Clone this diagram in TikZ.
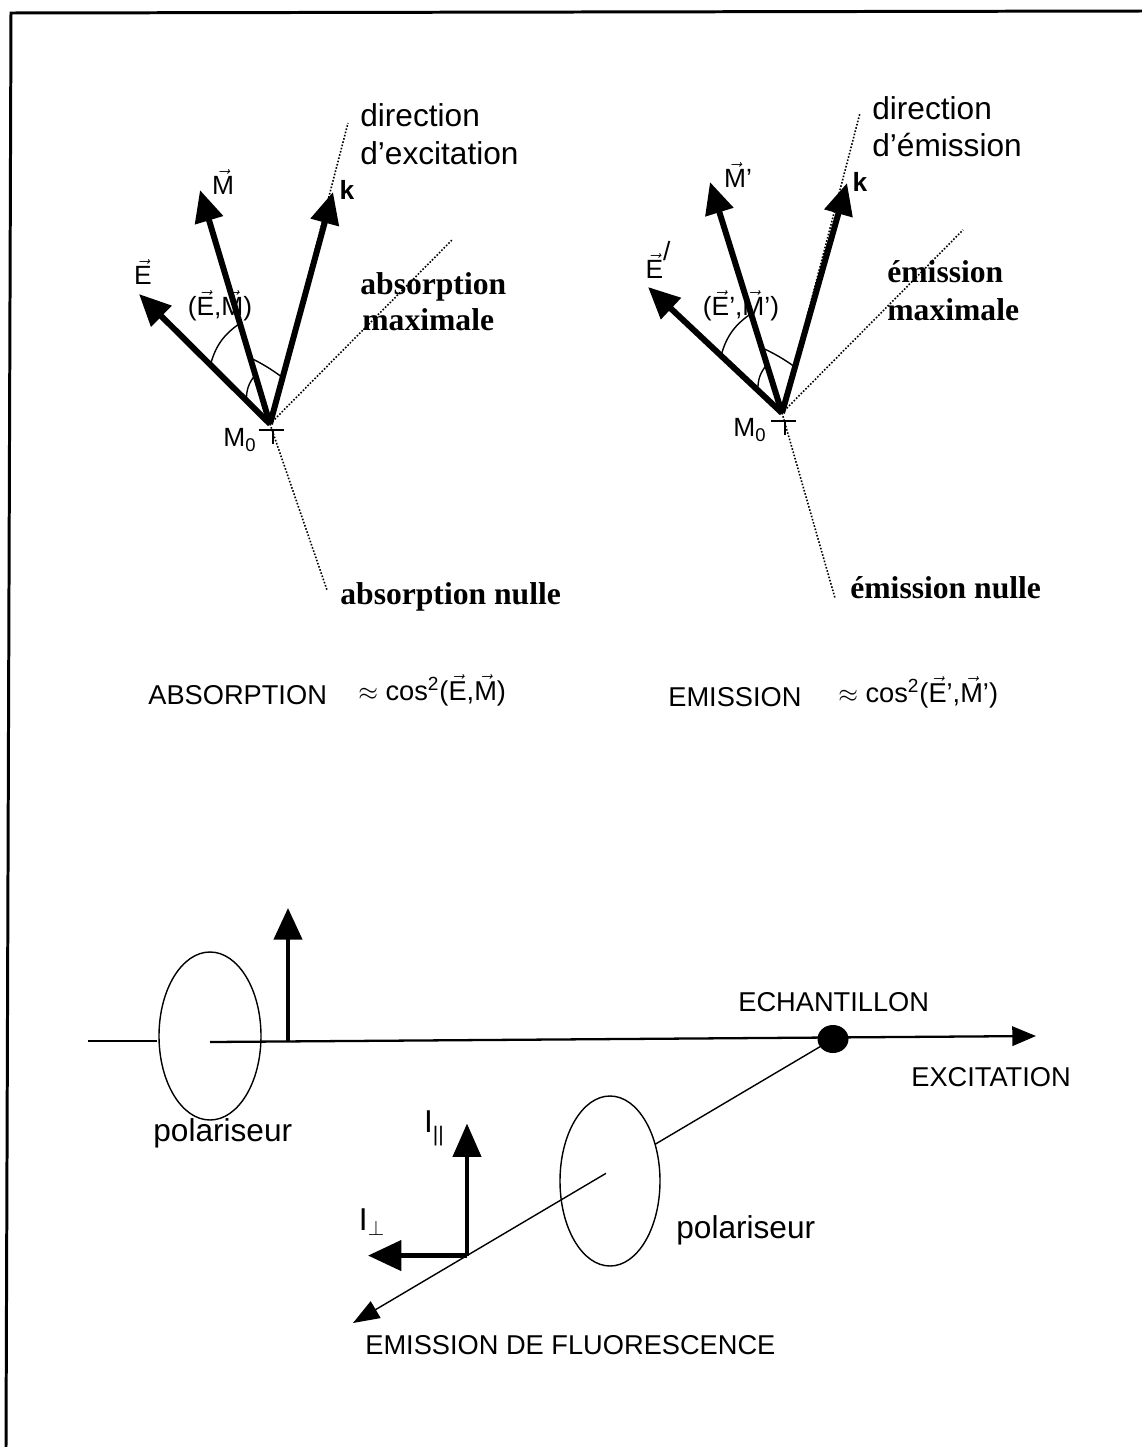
\documentclass[tikz,border=0pt]{standalone}
\usepackage{amsmath,amssymb}
\usepackage{fontspec}
\setmainfont{Liberation Serif}
\setsansfont{Liberation Sans}
\usepackage{tikz}
\usetikzlibrary{calc,arrows.meta}
\newcommand{\vecl}[1]{\ensuremath{\vec{\text{#1}}}}
\newcommand{\subtxt}[1]{\raisebox{-0.55ex}{\fontsize{12}{12}\selectfont #1}}

\begin{document}
\begin{tikzpicture}[x=0.02cm,y=-0.02cm,
  lbl/.style={font=\sffamily\fontsize{18}{20}\selectfont,inner sep=0pt},
  serif/.style={font=\bfseries\fontsize{18}{20}\selectfont,inner sep=0pt},
  caps/.style={font=\sffamily\fontsize{15.5}{17}\selectfont,inner sep=0pt},
  vlbl/.style={font=\sffamily\fontsize{15}{17}\selectfont,inner sep=0pt},
  vec/.style={line width=3.4pt,-{Triangle[length=18pt,width=16pt]}},
  ray/.style={densely dotted,line width=0.9pt},
  fine/.style={line width=0.8pt}]
  \useasboundingbox (0,0) rectangle (1142,1447);
  \draw[line width=1.7pt] (6,1447) -- (11,13) -- (1142,11);

  \coordinate (O1) at (270,424);
  \coordinate (E1) at ($(O1)+(-131,-130)$);
  \coordinate (M1) at ($(O1)+(-70,-234)$);
  \coordinate (K1) at ($(O1)+(63,-232)$);
  \draw[ray] (O1) -- +(78,-301);
  \draw[ray] (O1) -- +(182,-184);
  \draw[ray] (O1) -- +(57,166);
  \draw[vec] (O1) -- (E1);
  \draw[vec] (O1) -- (M1);
  \draw[vec] (O1) -- (K1);
  \draw[fine] ($(O1)!0.455!(E1)$) to[bend left=20] ($(O1)!0.43!(M1)$);
  \draw[fine] ($(O1)!0.18!(E1)$) to[bend left=20] ($(O1)!0.21!(M1)$);
  \draw[fine] ($(O1)!0.283!(M1)$) to[bend left=5] ($(O1)!0.2!(K1)$);
  \draw[line width=1.2pt] ($(O1)+(-11,6)$) -- +(25,0);
  \draw[line width=1.2pt] ($(O1)+(3,6)$) -- +(0,14);
  \node[vlbl] (lE1) at (143,272) {\vecl{E}};
  \node[vlbl] (lM1) at (223,182) {\vecl{M}};
  \node[vlbl,font=\sffamily\bfseries\fontsize{15}{17}\selectfont] (lK1) at (347,190) {k};
  \node[vlbl] (lEM1) at (220,306) {(\vecl{E},\vecl{M})};
  \node[vlbl] (lO1) at (240,440) {M$_{\text{0}}$};
  \node[lbl,anchor=west] (dir1) at (360,115) {direction};
  \node[lbl,anchor=west] (dex1) at (360,153) {d'excitation};
  \node[serif,anchor=west] (abs1) at (360,287) {absorption};
  \node[serif,anchor=west] (max1) at (362,320) {maximale};
  \node[serif,anchor=west] (nul1) at (340,597) {absorption nulle};

  \coordinate (O2) at (782,413);
  \coordinate (E2) at ($(O2)+(-134,-126)$);
  \coordinate (M2) at ($(O2)+(-72,-231)$);
  \coordinate (K2) at ($(O2)+(65,-230)$);
  \draw[ray] (O2) -- +(78,-300);
  \draw[ray] (O2) -- +(181,-183);
  \draw[ray] (O2) -- +(53,185);
  \draw[vec] (O2) -- (E2);
  \draw[vec] (O2) -- (M2);
  \draw[vec] (O2) -- (K2);
  \draw[fine] ($(O2)!0.455!(E2)$) to[bend left=20] ($(O2)!0.43!(M2)$);
  \draw[fine] ($(O2)!0.18!(E2)$) to[bend left=20] ($(O2)!0.21!(M2)$);
  \draw[fine] ($(O2)!0.283!(M2)$) to[bend left=5] ($(O2)!0.2!(K2)$);
  \draw[line width=1.2pt] ($(O2)+(-11,8)$) -- +(25,0);
  \draw[line width=1.2pt] ($(O2)+(3,8)$) -- +(0,14);
  \node[vlbl] (lE2) at (658,260) {\vecl{E}\raisebox{1.3ex}{/}};
  \node[vlbl] (lM2) at (738,175) {\vecl{M}'};
  \node[vlbl,font=\sffamily\bfseries\fontsize{15}{17}\selectfont] (lK2) at (860,182) {k};
  \node[vlbl] (lEM2) at (741,306) {(\vecl{E}',\vecl{M}')};
  \node[vlbl] (lO2) at (750,430) {M$_{\text{0}}$};
  \node[lbl,anchor=west] (dir2) at (872,108) {direction};
  \node[lbl,anchor=west] (dem2) at (872,145) {d'émission};
  \node[serif,anchor=west] (abs2) at (887,272) {émission};
  \node[serif,anchor=west] (max2) at (887,310) {maximale};
  \node[serif,anchor=west] (nul2) at (850,588) {émission nulle};

  \node[caps,anchor=west] (fa) at (148,695) {ABSORPTION};
  \node[caps,anchor=west] (fb) at (358,690) {$\approx$ cos\textsuperscript{2}(\vecl{E},\vecl{M})};
  \node[caps,anchor=west] (fc) at (668,697) {EMISSION};
  \node[caps,anchor=west] (fd) at (838,692) {$\approx$ cos\textsuperscript{2}(\vecl{E}',\vecl{M}')};

  \coordinate (L0) at (88,1041);
  \coordinate (L1) at (157,1041);
  \coordinate (A) at (210,1042);
  \coordinate (B) at (1036,1036);
  \coordinate (P0) at (288,1042);
  \coordinate (P1) at (288,908);
  \coordinate (S) at (833,1039);
  \coordinate (T) at (353,1323);
  \coordinate (F1) at ($(S)!0.371!(T)$);
  \coordinate (F2) at ($(S)!0.473!(T)$);
  \coordinate (C) at ($(S)!0.7625!(T)$);
  \coordinate (Ipar) at ($(C)+(0,-132)$);
  \coordinate (Iper) at ($(C)+(-99,0)$);
  \draw[fine] (210,1036) ellipse (51 and 84);
  \draw[line width=1.3pt] (L0) -- (L1);
  \draw[line width=1.3pt,-{Triangle[length=13.5pt,width=11pt]}] (A) -- (B);
  \draw[line width=2.3pt,-{Triangle[length=18pt,width=16pt]}] (P0) -- (P1);
  \fill (S) ellipse (15.5 and 14);
  \draw[fine] (S) -- (F1);
  \draw[fine] (610,1181) ellipse (50 and 85);
  \draw[fine,-{Triangle[length=15pt,width=11pt]}] (F2) -- (T);
  \draw[line width=2.3pt,-{Triangle[length=19pt,width=16pt]}] (C) -- (Ipar);
  \draw[line width=2.8pt,-{Triangle[length=19pt,width=17pt]}] (C) -- (Iper);
  \node[caps,anchor=west] (ech) at (738,1002) {ECHANTILLON};
  \node[caps,anchor=west] (exc) at (911,1077) {EXCITATION};
  \node[lbl,anchor=west] (pol1) at (153,1133) {polariseur};
  \node[lbl,anchor=west] (pol2) at (676,1230) {polariseur};
  \node[lbl] (lpar) at (434,1128) {I\subtxt{||}};
  \node[lbl] (lper) at (372,1222) {I$_{\perp}$};
  \node[caps,anchor=west] (emf) at (365,1345) {EMISSION DE FLUORESCENCE};
\end{tikzpicture}
\end{document}
